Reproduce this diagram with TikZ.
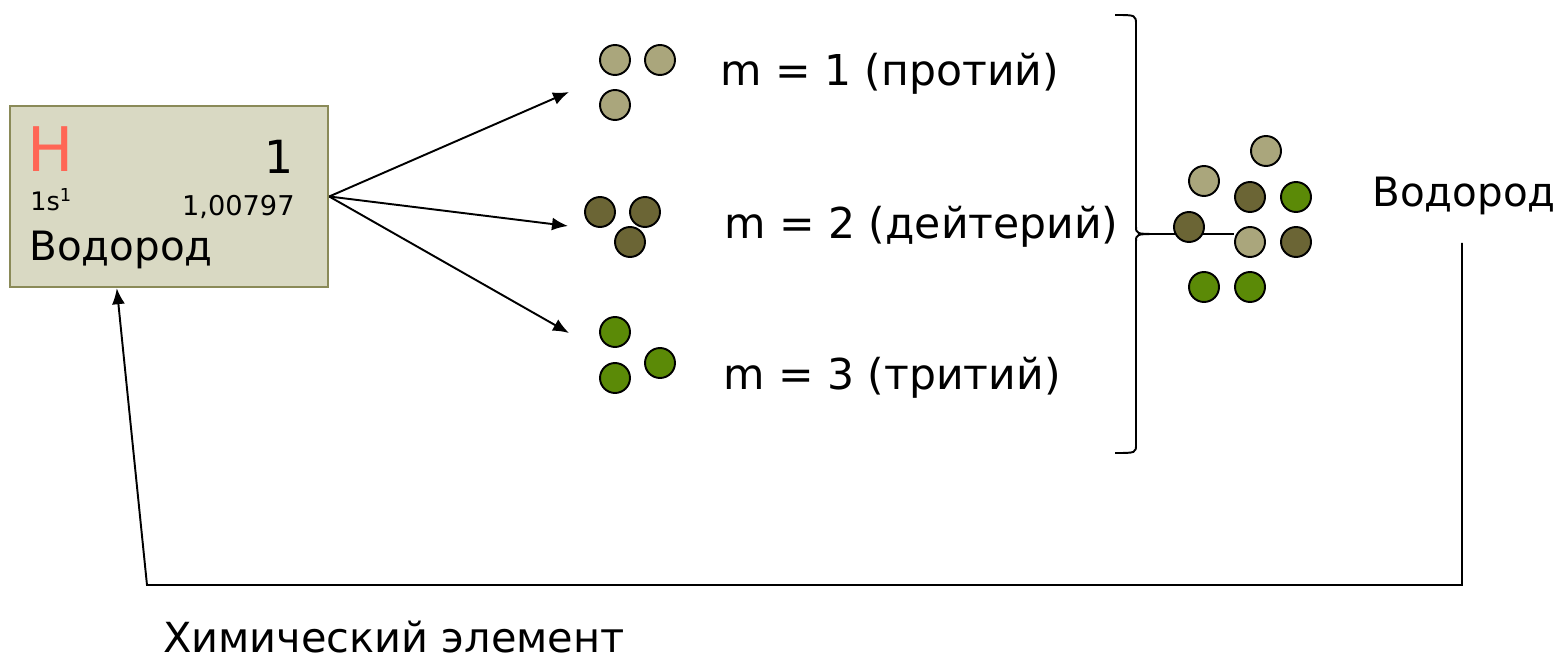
\documentclass[tikz,border=0pt]{standalone}
\usepackage{fontspec}
\setmainfont{DejaVu Sans}
\usetikzlibrary{arrows.meta}
\usetikzlibrary{calc}
\usetikzlibrary{positioning}

\definecolor{boxfill}{RGB}{217,217,195}
\definecolor{boxline}{RGB}{138,138,88}
\definecolor{hred}{RGB}{255,102,85}
\definecolor{prot}{RGB}{170,166,124}
\definecolor{deut}{RGB}{107,101,53}
\definecolor{trit}{RGB}{91,138,7}

\tikzset{
  atom/.style={circle,draw=black,line width=1.1pt,minimum size=0.6cm,inner sep=0pt},
  pr/.style={atom,fill=prot},
  de/.style={atom,fill=deut},
  tr/.style={atom,fill=trit},
  lbl/.style={font=\fontsize{23}{27}\selectfont,anchor=base west,inner sep=0pt},
  mlbl/.style={lbl,font=\fontsize{24.2}{28}\selectfont},
  arr/.style={line width=1.1pt,-{Latex[length=0.32cm,width=0.26cm]}}
}

\begin{document}
\begin{tikzpicture}[x=0.02cm,y=-0.02cm]
\useasboundingbox (0,0) rectangle (1562,662);

% element card
\node[draw=boxline,fill=boxfill,line width=1.4pt,minimum width=6.36cm,minimum height=3.62cm,inner sep=0pt] (elem) at (169,196.5) {};
\node[font=\fontsize{35}{40}\selectfont,text=hred,anchor=base west,inner sep=0pt] (sym) at (27,172) {H};
\node[font=\fontsize{26}{30}\selectfont,anchor=base east,inner sep=0pt] (num) at (294,174) {1};
\node[font=\fontsize{14.5}{18}\selectfont,anchor=base west,inner sep=0pt] (conf) at (30,211) {1s$^{\mathrm{1}}$};
\node[font=\fontsize{15.5}{18}\selectfont,anchor=base east,inner sep=0pt] (mass) at (295,216) {1,00797};
\node[lbl] (name) at (29,260) {Водород};

% isotopes
\node[pr] (p1) at (615,60) {};
\node[pr] (p2) at (660,60) {};
\node[pr] (p3) at (615,105) {};
\node[de] (d1) at (600,212) {};
\node[de] (d2) at (645,212) {};
\node[de] (d3) at (630,242) {};
\node[tr] (t1) at (615,332) {};
\node[tr] (t2) at (660,363) {};
\node[tr] (t3) at (615,378) {};

\node[mlbl] (m1) at (720,86) {m = 1 (протий)};
\node[mlbl] (m2) at (724,239) {m = 2 (дейтерий)};
\node[mlbl] (m3) at (723,389) {m = 3 (тритий)};

\coordinate (e1) at (569,92);
\coordinate (e2) at (568,226);
\coordinate (e3) at (569,333);
\draw[arr] (elem.east) -- (e1);
\draw[arr] (elem.east) -- (e2);
\draw[arr] (elem.east) -- (e3);

% brace
\coordinate (tip) at (1158,234);
\draw[line width=1.1pt] (1115,15) .. controls (1136,15) .. (1136,25) -- (1136,226)
  .. controls (1136,234) .. (tip) .. controls (1136,234) .. (1136,242) -- (1136,444)
  .. controls (1136,453) .. (1115,453);

% mixture
\node[pr] (x1) at (1266,151) {};
\node[pr] (x2) at (1204,181) {};
\node[de] (x3) at (1250,197) {};
\node[tr] (x4) at (1296,197) {};
\node[pr] (x6) at (1250,242) {};
\node[de] (x7) at (1296,242) {};
\node[tr] (x8) at (1204,287) {};
\node[tr] (x9) at (1250,287) {};
\draw[line width=0.6pt] (tip) -- (tip -| x6.west);
\node[de] (x5) at (1189,227) {};

\node[lbl] (vod) at (1372,207) {Водород};

% back to the element
\coordinate (fb) at (147,585);
\coordinate (bk) at (1462,585);
\draw[arr] (1462,243) -- (bk) -- (fb) -- ($(elem.south west)+(108,0)$);

\node[lbl,font=\fontsize{23.6}{28}\selectfont] (chem) at (163,652) {Химический элемент};
\end{tikzpicture}
\end{document}
